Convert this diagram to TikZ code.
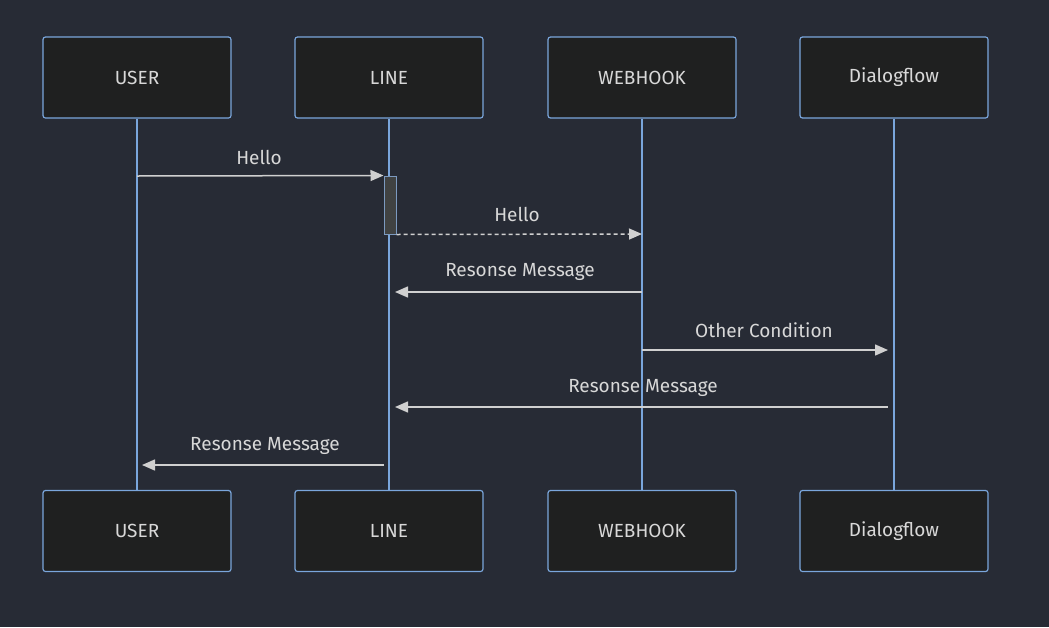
\documentclass[tikz,border=0pt]{standalone}
\usepackage{fontspec}
\setmainfont{Fira Sans}
\usetikzlibrary{arrows.meta}
\definecolor{bg}{HTML}{272B35}
\definecolor{boxfill}{HTML}{1F2020}
\definecolor{boxline}{HTML}{7AA6DC}
\definecolor{msg}{HTML}{D0D0D0}
\definecolor{txt}{HTML}{D8D8D8}
\definecolor{actfill}{HTML}{404242}
\begin{document}
\begin{tikzpicture}[x=1pt,y=-1pt,
  actor/.style={draw=boxline,fill=boxfill,rounded corners=2.5pt,line width=1.2pt,minimum width=188pt,minimum height=81pt,text=txt,font=\fontsize{19}{22}\selectfont,inner sep=0pt},
  life/.style={draw=boxline,line width=1.6pt},
  arr/.style={draw=msg,line width=1.5pt,-{Triangle[length=13pt,width=11pt]}},
  lbl/.style={text=txt,font=\fontsize{19}{22}\selectfont,inner sep=0pt}]
\fill[bg] (0,0) rectangle (1049,627);
\useasboundingbox (0,0) rectangle (1049,627);
% top actors
\node[actor] (u1) at (137,77.5) {USER};
\node[actor] (l1) at (389,77.5) {LINE};
\node[actor] (w1) at (642,77.5) {WEBHOOK};
\node[actor] (d1) at (894,77.5) {Dialogflow};
% bottom actors
\node[actor] (u2) at (137,531) {USER};
\node[actor] (l2) at (389,531) {LINE};
\node[actor] (w2) at (642,531) {WEBHOOK};
\node[actor] (d2) at (894,531) {Dialogflow};
% lifelines
\draw[life] (u1.south) -- (u2.north);
\draw[life] (l1.south) -- (l2.north);
\draw[life] (w1.south) -- (w2.north);
\draw[life] (d1.south) -- (d2.north);
% activation
\node[draw=boxline!70!gray,fill=actfill,line width=1pt,minimum width=12pt,minimum height=58pt,inner sep=0pt] (act) at (390,205) {};
% coordinates
\coordinate (m1s) at (137,176); \coordinate (m1e) at (act.north west);
\coordinate (m2s) at (act.south east); \coordinate (m2e) at (642,234);
\coordinate (m3s) at (642,292); \coordinate (m3e) at (395,292);
\coordinate (m4s) at (642,350); \coordinate (m4e) at (888,350);
\coordinate (m5s) at (888,407); \coordinate (m5e) at (395,407);
\coordinate (m6s) at (384,465); \coordinate (m6e) at (142,465);
\draw[arr] (m1s) -- (m1e);
\draw[arr,dash pattern=on 4pt off 3pt] (m2s) -- (m2e);
\draw[arr] (m3s) -- (m3e);
\draw[arr] (m4s) -- (m4e);
\draw[arr] (m5s) -- (m5e);
\draw[arr] (m6s) -- (m6e);
% labels
\node[lbl] (t1) at (259,157) {Hello};
\node[lbl] (t2) at (517,214) {Hello};
\node[lbl] (t3) at (520,272) {Resonse Message};
\node[lbl] (t4) at (764,330) {Other Condition};
\node[lbl] (t5) at (643,388) {Resonse Message};
\node[lbl] (t6) at (265,446) {Resonse Message};
\end{tikzpicture}
\end{document}
